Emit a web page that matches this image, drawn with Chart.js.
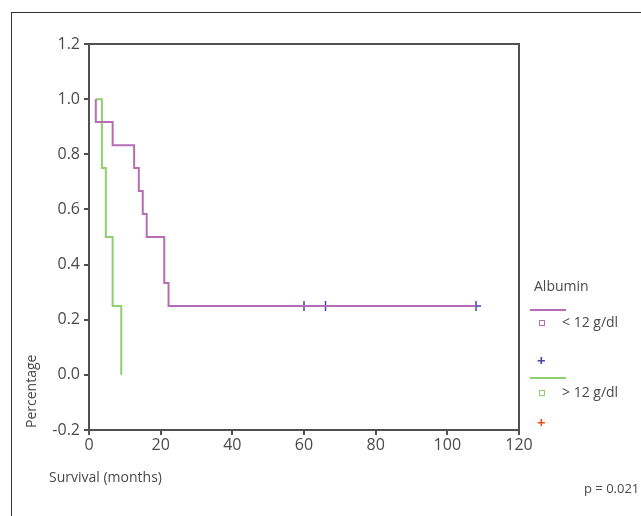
<!DOCTYPE html>
<html>
<head>
<meta charset="utf-8">
<script src="https://cdn.jsdelivr.net/npm/chart.js@4/dist/chart.umd.min.js"></script>
<style>
  html, body { margin: 0; padding: 0; background: #fff; overflow: hidden; }
  #wrap { position: relative; width: 641px; height: 516px; font-family: "Open Sans", sans-serif; color: #4a4a4a; }
  #frame { position: absolute; left: 11px; top: 12px; width: 700px; height: 600px; border: 1px solid #333; }
  #chart { position: absolute; left: 0; top: 0; }
  .lbl { position: absolute; white-space: nowrap; font-size: 14px; line-height: 1; }
  .sw { position: absolute; width: 4px; height: 4px; border: 1px solid; }
  .ln { position: absolute; height: 2px; width: 36px; }
  .plus { position: absolute; font-size: 15px; line-height: 1; font-weight: bold; }
</style>
</head>
<body>
<div id="wrap">
  <div id="frame"></div>
  <canvas id="chart" width="641" height="516"></canvas>

  <div class="lbl" style="left:49px;top:470px;">Survival (months)</div>
  <div class="lbl" style="left:24px;top:428px;transform:rotate(-90deg);transform-origin:0 0;">Percentage</div>
  <div class="lbl" style="left:584px;top:482px;font-size:13px;">p = 0.021</div>

  <!-- legend -->
  <div class="lbl" style="left:534px;top:279px;">Albumin</div>
  <div class="ln" style="left:530px;top:309px;background:#b56db5;"></div>
  <div class="sw" style="left:539px;top:320px;border-color:#b56db5;"></div>
  <div class="lbl" style="left:562px;top:315px;">&lt; 12 g/dl</div>
  <div class="plus" style="left:537px;top:353px;color:#4545b0;">+</div>
  <div class="ln" style="left:530px;top:377px;background:#8fcf6f;"></div>
  <div class="sw" style="left:539px;top:390px;border-color:#8fcf6f;"></div>
  <div class="lbl" style="left:562px;top:385px;">&gt; 12 g/dl</div>
  <div class="plus" style="left:537px;top:415px;color:#e8502a;">+</div>
</div>

<script>
// Kaplan-Meier steps: time (months) and survival after each event
const lowTimes = [1.9, 1.9, 6.6, 12.6, 13.9, 15.0, 16.1, 21.0, 22.2, 108];
const lowSurv  = [1.0, 0.917, 0.833, 0.75, 0.667, 0.583, 0.5, 0.333, 0.25, 0.25];

const highTimes = [1.9, 3.6, 4.7, 6.6, 9.0];
const highSurv  = [1.0, 0.75, 0.5, 0.25, 0.0];

// censored observations in the < 12 g/dl group
const censorTimes = [60, 66, 108];
const censorSurv  = [0.25, 0.25, 0.25];

const xTicks = [0, 20, 40, 60, 80, 100, 120];
const yTicks = [-0.2, 0.0, 0.2, 0.4, 0.6, 0.8, 1.0, 1.2];

const PURPLE = "#b56db5";
const GREEN = "#8fcf6f";
const BLUE = "#4545b0";
const AXIS = "#505050";
const TEXT = "#4a4a4a";

const toPoints = (xs, ys) => xs.map((x, i) => ({ x, y: ys[i] }));

// closes the plot box on top and right
const boxPlugin = {
  id: "box",
  afterDraw(chart) {
    const { ctx, chartArea: a } = chart;
    ctx.save();
    ctx.strokeStyle = AXIS;
    ctx.lineWidth = 2;
    ctx.beginPath();
    ctx.moveTo(a.left, a.top);
    ctx.lineTo(a.right, a.top);
    ctx.lineTo(a.right, a.bottom);
    ctx.stroke();
    ctx.restore();
  }
};

const tickFont = { family: "Open Sans", size: 16 };

new Chart(document.getElementById("chart"), {
  type: "line",
  data: {
    datasets: [
      {
        label: "< 12 g/dl",
        data: toPoints(lowTimes, lowSurv),
        borderColor: PURPLE,
        borderWidth: 2,
        stepped: true,
        pointRadius: 0,
        fill: false
      },
      {
        label: "> 12 g/dl",
        data: toPoints(highTimes, highSurv),
        borderColor: GREEN,
        borderWidth: 2,
        stepped: true,
        pointRadius: 0,
        fill: false
      },
      {
        label: "censored",
        data: toPoints(censorTimes, censorSurv),
        showLine: false,
        pointStyle: "cross",
        pointRadius: 5,
        borderColor: BLUE,
        borderWidth: 1.5
      }
    ]
  },
  options: {
    responsive: false,
    animation: false,
    devicePixelRatio: 1,
    layout: { padding: { left: 0, top: 44, right: 122, bottom: 56 } },
    plugins: { legend: { display: false }, tooltip: { enabled: false } },
    scales: {
      x: {
        type: "linear",
        min: 0,
        max: 120,
        afterBuildTicks: s => { s.ticks = xTicks.map(v => ({ value: v })); },
        afterFit: s => { s.height = 30; },
        border: { display: true, color: AXIS, width: 2 },
        grid: { drawOnChartArea: false, drawTicks: true, tickLength: 5, color: AXIS, lineWidth: 2 },
        ticks: { color: TEXT, font: tickFont, padding: 1, maxRotation: 0 }
      },
      y: {
        type: "linear",
        min: -0.2,
        max: 1.2,
        afterBuildTicks: s => { s.ticks = yTicks.map(v => ({ value: v })); },
        afterFit: s => { s.width = 89; },
        border: { display: true, color: AXIS, width: 2 },
        grid: { drawOnChartArea: false, drawTicks: true, tickLength: 5, color: AXIS, lineWidth: 2 },
        ticks: { color: TEXT, font: tickFont, padding: 4, callback: v => Number(v).toFixed(1) }
      }
    }
  },
  plugins: [boxPlugin]
});
</script>
</body>
</html>
